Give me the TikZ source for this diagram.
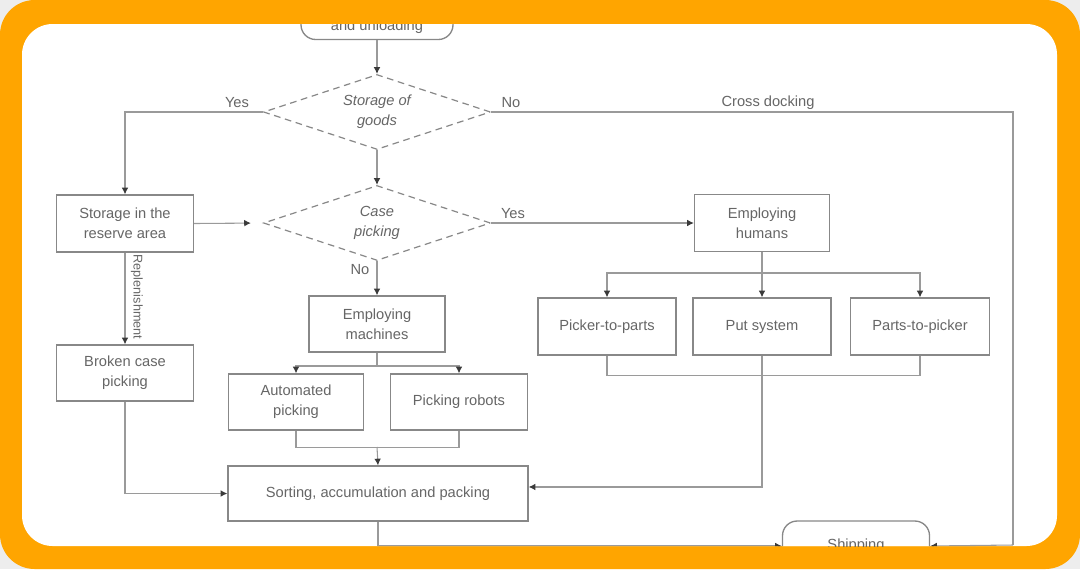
\documentclass[tikz,border=0pt]{standalone}
\usepackage{fontspec}
\setmainfont{Liberation Sans}
\usetikzlibrary{shapes.geometric,arrows.meta}

\definecolor{framec}{HTML}{FFA500}
\definecolor{outsidec}{HTML}{EDEDED}
\definecolor{linec}{HTML}{9A9A9A}
\definecolor{boxc}{HTML}{888888}
\definecolor{tipc}{HTML}{3A3A3A}
\definecolor{txtc}{HTML}{666666}

\begin{document}
\begin{tikzpicture}[x=0.75pt,y=-0.75pt,
  every node/.style={text=txtc,font=\fontsize{11}{15}\selectfont,align=center},
  box/.style 2 args={draw=boxc,line width=1pt,fill=white,inner sep=0pt,
    minimum width=#1*0.75pt,minimum height=#2*0.75pt},
  term/.style 2 args={box={#1}{#2},rounded corners=11pt},
  choice/.style={draw=boxc,line width=0.9pt,dash pattern=on 5pt off 3.5pt,
    shape=diamond,aspect=3,inner sep=0pt,fill=white,
    minimum width=227*0.75pt,minimum height=75*0.75pt,
    font=\itshape\fontsize{11}{15}\selectfont},
  lbl/.style={inner sep=1pt},
  ln/.style={draw=linec,line width=0.8pt},
  arr/.style={ln,-{Latex[length=5pt,width=5pt,color=tipc]}}]

\useasboundingbox (0,0) rectangle (1080,569);

% frame and card
\fill[outsidec] (0,0) rectangle (1080,569);
\fill[framec,rounded corners=26pt] (0,0) rectangle (1080,569);
\fill[white,rounded corners=23pt] (22,24) rectangle (1057,546);

\begin{scope}
\clip[rounded corners=23pt] (22,24) rectangle (1057,546);

% nodes
\node[term={152}{45}] (recv) at (377,17) {Reception\\and unloading};
\node[choice] (d1) at (377,112) {Storage of\\goods};
\node[choice] (d2) at (377,223) {Case\\picking};
\node[box={137}{57}] (storage) at (125,223.5) {Storage in the\\reserve area};
\node[box={137}{56}] (broken) at (125,373) {Broken case\\picking};
\node[box={136}{56}] (machines) at (377,324) {Employing\\machines};
\node[box={135}{56}] (auto) at (296,402) {Automated\\picking};
\node[box={137}{56}] (robots) at (459,402) {Picking robots};
\node[box={300}{55}] (sorting) at (378,493.5) {Sorting, accumulation and packing};
\node[box={135}{57}] (humans) at (762,223) {Employing\\humans};
\node[box={138}{57}] (p2p) at (607,326.5) {Picker-to-parts};
\node[box={138}{57}] (put) at (762,326.5) {Put system};
\node[box={139}{57}] (parts) at (920,326.5) {Parts-to-picker};
\node[term={147}{50}] (ship) at (856,546) {Shipping};

% labels
\node[lbl] (yes1) at (237,103) {Yes};
\node[lbl] (no1) at (511,103) {No};
\node[lbl] (cross) at (768,103) {Cross docking};
\node[lbl] (yes2) at (513,214) {Yes};
\node[lbl] (no2) at (360,270) {No};
\node[lbl,rotate=-90,font=\fontsize{9.5}{11}\selectfont] (repl) at (137,297) {Replenishment};

% junction points
\coordinate (cdR) at (1013,545);
\coordinate (mj) at (377,366);
\coordinate (mb) at (377,447);
\coordinate (hj) at (762,273);

% connectors
\draw[arr] (recv.south) -- (d1.north);
\draw[arr] (d1.west) -| (storage.north);
\draw[ln] (d1.east) -| (cdR);
\draw[arr] (cdR) -- (ship.east);
\draw[arr] (d1.south) -- (d2.north);
\draw[arr] (d2.east) -- (humans.west);
\draw[arr] (d2.south) -- (machines.north);
\draw[arr,shorten >=9pt] (storage.east) -- (d2.west);
\draw[arr] (storage.south) -- (broken.north);
\draw[arr] (broken.south) |- (sorting.west);

\draw[ln] (machines.south) -- (mj);
\draw[arr] (mj) -| (auto.north);
\draw[arr] (mj) -| (robots.north);
\draw[ln] (auto.south) -- ++(0,17) -| (robots.south);
\draw[arr] (mb) -- (sorting.north);

\draw[ln] (humans.south) -- (hj);
\draw[arr] (hj) -| (p2p.north);
\draw[arr] (hj) -- (put.north);
\draw[arr] (hj) -| (parts.north);
\draw[ln] (p2p.south) -- ++(0,20) -| (parts.south);
\draw[arr] (put.south) |- ([yshift=4.9pt]sorting.east);

\draw[arr] (sorting.south) |- (ship.west);
\end{scope}
\end{tikzpicture}
\end{document}
